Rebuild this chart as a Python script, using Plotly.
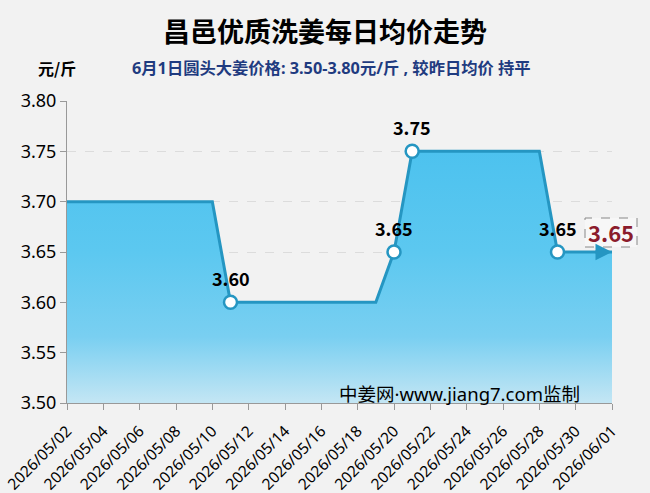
import plotly.graph_objects as go
import pandas as pd

dates = pd.date_range("2026-05-02", "2026-06-01", freq="D").strftime("%Y-%m-%d").tolist()
prices = [3.70]*9 + [3.60]*9 + [3.65] + [3.75]*8 + [3.65]*4
label_dates = ["2026-05-11", "2026-05-20", "2026-05-21", "2026-05-29"]
label_prices = [3.60, 3.65, 3.75, 3.65]
title = "昌邑优质洗姜每日均价走势"
unit = "元/斤"
subtitle = "6月1日圆头大姜价格: 3.50-3.80元/斤 , 较昨日均价 持平"
watermark = "中姜网·www.jiang7.com监制"
tick_vals = ["3.50", "3.55", "3.60", "3.65", "3.70", "3.75", "3.80"]

LINE = "#2596c2"
FONT = "Noto Sans CJK SC"
LFONT = "Noto Sans, Noto Sans CJK SC"

# plot area in page pixels
L, R, T, B = 67, 612, 101, 403
def px(xp): return (xp - L) / (R - L)
def py(yp): return (B - yp) / (B - T)

fig = go.Figure()
fig.add_trace(go.Scatter(
    x=dates, y=prices, mode="lines",
    line=dict(color=LINE, width=3),
    fill="tozeroy",
    fillgradient=dict(type="vertical", start=3.5, stop=3.8,
                      colorscale=[[0, "#c4e6f4"], [0.22, "#79cff1"], [0.5, "#5cc8f0"], [1, "#45bfee"]]),
    hoverinfo="skip", showlegend=False,
))
fig.add_trace(go.Scatter(
    x=label_dates, y=label_prices, mode="markers",
    marker=dict(symbol="circle", size=13, color="white", line=dict(color=LINE, width=2.5)),
    showlegend=False, hoverinfo="skip", cliponaxis=False,
))
for d, v in zip(label_dates, label_prices):
    fig.add_annotation(x=d, y=v, xref="x", yref="y", text=f"<b>{v:.2f}</b>", showarrow=False,
                       yanchor="middle", xanchor="center", yshift=24,
                       font=dict(family=FONT, size=18, color="black"))

fig.add_annotation(x=dates[-1], y=prices[-1], ax=dates[-2], ay=prices[-1],
                   xref="x", yref="y", axref="x", ayref="y", text="",
                   showarrow=True, arrowhead=2, arrowsize=1.1, arrowwidth=3, arrowcolor=LINE)
# end value box
fig.add_shape(type="rect", xref="paper", yref="paper",
              x0=px(585), x1=px(637), y0=py(247), y1=py(218),
              line=dict(color="#888888", width=1, dash="dash"), fillcolor="#f7f7f7", layer="above")
fig.add_annotation(x=px(611), y=py(232), xref="paper", yref="paper", text=f"{prices[-1]:.2f}",
                   showarrow=False, xanchor="center", yanchor="middle",
                   font=dict(family=FONT, size=22, color="#8b1c2c", weight="bold"))
fig.add_annotation(x=px(337), y=py(393), xref="paper", yref="paper", text=watermark, showarrow=False,
                   xanchor="left", yanchor="middle",
                   font=dict(family=LFONT, size=18.5, color="black"))
fig.add_annotation(x=px(36), y=py(68), xref="paper", yref="paper", text=f"<b>{unit}</b>",
                   showarrow=False, xanchor="left", yanchor="middle",
                   font=dict(family=FONT, size=16, color="black"))
fig.add_annotation(x=px(130), y=py(68), xref="paper", yref="paper", text=f"<b>{subtitle}</b>",
                   showarrow=False, xanchor="left", yanchor="middle",
                   font=dict(family=LFONT, size=16.3, color="#1f3b80"))

fig.update_layout(
    width=650, height=493,
    margin=dict(l=L, r=650 - R, t=T, b=493 - B, autoexpand=False),
    paper_bgcolor="#f2f2f2", plot_bgcolor="#f2f2f2",
    font=dict(family=FONT, color="black"),
    title=dict(text=f"<b>{title}</b>", x=0.5, xanchor="center", y=1 - 33/493, yanchor="middle",
               font=dict(family=FONT, size=27, color="black")),
    xaxis=dict(type="date", range=[dates[0], dates[-1]], tick0=dates[0], dtick=2*86400000,
               tickformat="%Y/%m/%d", tickangle=-45, ticks="outside", ticklen=6, tickcolor="#999999",
               showline=True, linecolor="#999999", linewidth=1, showgrid=False, zeroline=False,
               automargin=False, ticklabelstandoff=6,
               tickfont=dict(family=LFONT, size=15.5, color="black")),
    yaxis=dict(range=[3.5, 3.8], tickvals=[float(v) for v in tick_vals], ticktext=tick_vals,
               ticks="outside", ticklen=6, tickcolor="#999999",
               showline=True, linecolor="#999999", linewidth=1,
               showgrid=True, gridcolor="#dcdcdc", griddash="dash", zeroline=False,
               automargin=False,
               tickfont=dict(family=LFONT, size=18, color="black")),
)
fig.write_html("out.html")
